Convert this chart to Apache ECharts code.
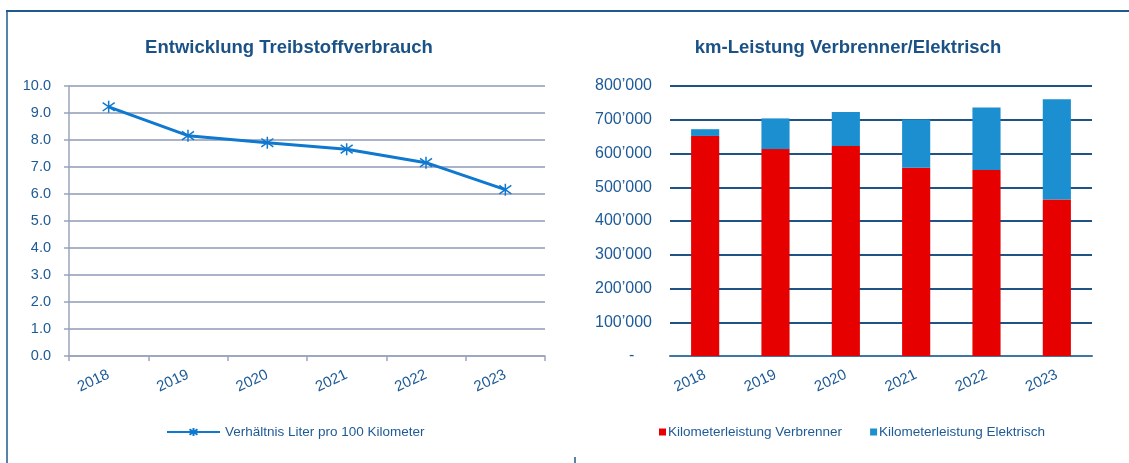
<!DOCTYPE html>
<html>
<head>
<meta charset="utf-8">
<script src="https://cdn.jsdelivr.net/npm/echarts@6/dist/echarts.min.js"></script>
<style>
  html, body { margin: 0; padding: 0; background: #fff; }
  #chart { width: 1129px; height: 463px; }
</style>
</head>
<body>
<div id="chart"></div>
<script>
const years = ['2018', '2019', '2020', '2021', '2022', '2023']
const litersPer100km = [9.23, 8.16, 7.90, 7.66, 7.16, 6.16]
const kmCombustion = [652000, 613000, 622000, 558000, 551000, 464000]
const kmElectric = [20000, 91000, 101000, 143000, 185000, 297000]

const titleColor = '#1a5186'
const labelColor = '#1d5a96'
const font = 'Liberation Sans, Arial, sans-serif'

const fmtKm = (v) => {
  if (v === 0) return '-    '
  return String(v).replace(/\B(?=(\d{3})+(?!\d))/g, '\u2019')
}

// asterisk marker: vertical stroke plus an X
const star = 'path://M0,-10L0,10M-7,-7L7,7M-7,7L7,-7'

const chart = echarts.init(document.getElementById('chart'))
chart.setOption({
  animation: false,
  textStyle: {fontFamily: font},
  graphic: [
    {type: 'line', shape: {x1: 6, y1: 11, x2: 1129, y2: 11}, style: {stroke: '#1e5a8e', lineWidth: 2}},
    {type: 'line', shape: {x1: 7, y1: 10, x2: 7, y2: 463}, style: {stroke: '#1e5a8e', lineWidth: 1.5}},
    {type: 'line', shape: {x1: 575, y1: 457, x2: 575, y2: 463}, style: {stroke: '#1e5a8e', lineWidth: 1.5}}
  ],
  title: [
    {
      text: 'Entwicklung Treibstoffverbrauch',
      left: 284, top: 33, textAlign: 'center',
      textStyle: {fontSize: 18.5, fontWeight: 'bold', color: titleColor, fontFamily: font}
    },
    {
      text: 'km-Leistung Verbrenner/Elektrisch',
      left: 843, top: 33, textAlign: 'center',
      textStyle: {fontSize: 18.5, fontWeight: 'bold', color: titleColor, fontFamily: font}
    }
  ],
  legend: [
    {
      left: 161, top: 420,
      itemWidth: 53, itemHeight: 10,
      textStyle: {fontSize: 13.5, color: labelColor, fontFamily: font},
      data: ['Verhältnis Liter pro 100 Kilometer']
    },
    {
      left: 654, top: 420,
      icon: 'rect', itemWidth: 7, itemHeight: 7, itemGap: 28,
      textStyle: {fontSize: 13.5, color: labelColor, fontFamily: font, padding: [0, 0, 0, -3]},
      data: ['Kilometerleistung Verbrenner', 'Kilometerleistung Elektrisch']
    }
  ],
  grid: [
    {left: 69, right: 584, top: 86, bottom: 107},
    {left: 670, right: 37, top: 86, bottom: 107}
  ],
  xAxis: [
    {
      type: 'category', gridIndex: 0, data: years,
      boundaryGap: true,
      axisLine: {lineStyle: {color: '#9aa4bd', width: 1.5}},
      axisTick: {show: true, length: 5, lineStyle: {color: '#9aa4bd', width: 1.5}},
      axisLabel: {rotate: 25, margin: 18, fontSize: 15, color: labelColor}
    },
    {
      type: 'category', gridIndex: 1, data: years,
      axisLine: {lineStyle: {color: '#3e76a6', width: 2}},
      axisTick: {show: false},
      axisLabel: {rotate: 25, margin: 18, fontSize: 15, color: labelColor}
    }
  ],
  yAxis: [
    {
      type: 'value', gridIndex: 0, min: 0, max: 10, interval: 1,
      axisLine: {show: true, lineStyle: {color: '#9aa4bd', width: 1.5}},
      axisTick: {show: true, length: 5, lineStyle: {color: '#9aa4bd', width: 1.5}},
      splitLine: {lineStyle: {color: '#8e9ab4', width: 1.5}},
      axisLabel: {margin: 18, fontSize: 14.5, color: labelColor, formatter: (v) => v.toFixed(1)}
    },
    {
      type: 'value', gridIndex: 1, min: 0, max: 800000, interval: 100000,
      axisLine: {show: false},
      axisTick: {show: false},
      splitLine: {lineStyle: {color: '#1f5285', width: 2}},
      axisLabel: {margin: 18, fontSize: 16, color: labelColor, formatter: fmtKm}
    }
  ],
  series: [
    {
      name: 'Verhältnis Liter pro 100 Kilometer',
      type: 'line', xAxisIndex: 0, yAxisIndex: 0,
      data: litersPer100km,
      symbol: star, symbolSize: 12,
      lineStyle: {color: '#0f78cf', width: 3},
      itemStyle: {color: 'none', borderColor: '#0f78cf', borderWidth: 1.5}
    },
    {
      name: 'Kilometerleistung Verbrenner',
      type: 'bar', xAxisIndex: 1, yAxisIndex: 1, stack: 'km',
      data: kmCombustion,
      barWidth: '40%',
      itemStyle: {color: '#e60000'}
    },
    {
      name: 'Kilometerleistung Elektrisch',
      type: 'bar', xAxisIndex: 1, yAxisIndex: 1, stack: 'km',
      data: kmElectric,
      barWidth: '40%',
      itemStyle: {color: '#1b8fd0'}
    }
  ]
})
</script>
</body>
</html>
